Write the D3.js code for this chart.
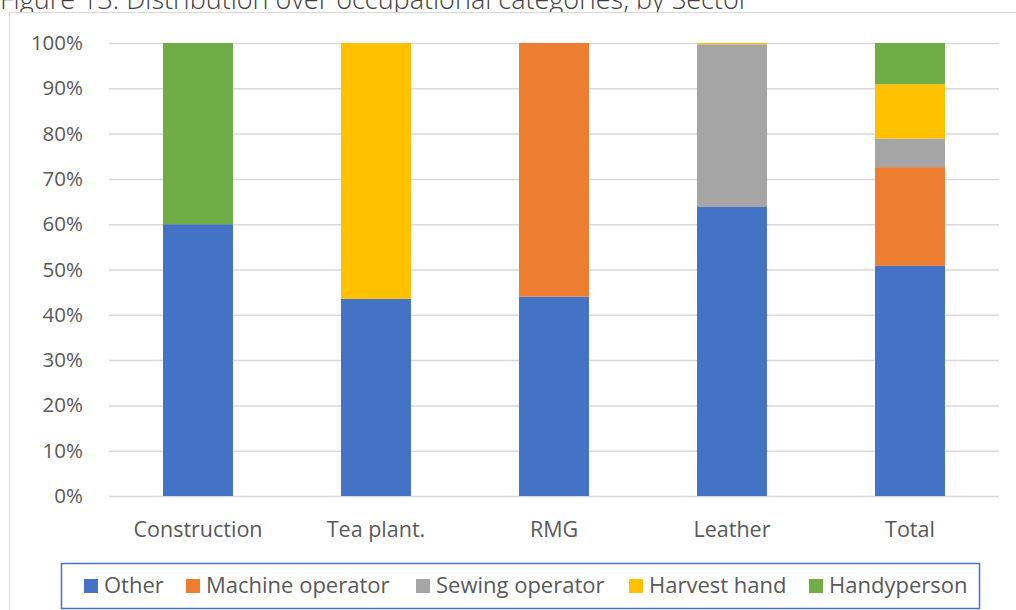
<!DOCTYPE html>
<html>
<head>
<meta charset="utf-8">
<script src="https://cdn.jsdelivr.net/npm/d3@7"></script>
<style>
  html, body { margin: 0; padding: 0; background: #fff; }
  svg { display: block; font-family: "Open Sans", "Noto Sans", sans-serif; }
</style>
</head>
<body>
<svg id="chart" width="1016" height="610"></svg>
<script>
// Sectors along the x axis
const sectors = ["Construction", "Tea plant.", "RMG", "Leather", "Total"];
// Occupational categories, stacked bottom to top
const categories = ["Other", "Machine operator", "Sewing operator", "Harvest hand", "Handyperson"];
const colors = ["#4472C4", "#ED7D31", "#A5A5A5", "#FFC000", "#70AD47"];
// Share of each category per sector (fractions)
const other           = [0.600, 0.435, 0.440, 0.638, 0.508];
const machineOperator = [0.000, 0.000, 0.560, 0.000, 0.218];
const sewingOperator  = [0.000, 0.000, 0.000, 0.359, 0.063];
const harvestHand     = [0.000, 0.565, 0.000, 0.003, 0.120];
const handyperson     = [0.400, 0.000, 0.000, 0.000, 0.091];
const yTicks = [0, 0.1, 0.2, 0.3, 0.4, 0.5, 0.6, 0.7, 0.8, 0.9, 1.0];

const FONT = '"Open Sans", "Noto Sans", sans-serif';
const seriesValues = [other, machineOperator, sewingOperator, harvestHand, handyperson];
const rows = sectors.map((s, i) => {
  const r = { sector: s };
  categories.forEach((c, k) => { r[c] = seriesValues[k][i]; });
  return r;
});

const svg = d3.select("#chart");
const plot = { left: 109, right: 999, top: 43, bottom: 496 };

// Title (partly above the top edge)
svg.append("text")
  .attr("x", 0).attr("y", 9)
  .attr("font-family", FONT)
  .attr("font-size", 27).attr("font-weight", 300)
  .attr("fill", "#404040")
  .text("Figure 13: Distribution over occupational categories, by Sector");

// Chart area frame
svg.append("rect")
  .attr("x", 9.5).attr("y", 12.5)
  .attr("width", 1040).attr("height", 640)
  .attr("fill", "#fff").attr("stroke", "#D9D9D9").attr("stroke-width", 1);

const x = d3.scaleBand().domain(sectors)
  .range([plot.left, plot.right])
  .paddingInner(0.607).paddingOuter(0.3035);
const y = d3.scaleLinear().domain([0, 1]).range([plot.bottom, plot.top]);

// Gridlines and percentage labels
const yAxis = d3.axisLeft(y).tickValues(yTicks)
  .tickFormat(d3.format(".0%"))
  .tickSize(-(plot.right - plot.left)).tickPadding(26);
const gy = svg.append("g").attr("transform", `translate(${plot.left},0)`).call(yAxis);
gy.select(".domain").remove();
gy.selectAll(".tick line").attr("stroke", "#D9D9D9").attr("stroke-width", 1.5);
gy.selectAll(".tick text").attr("font-family", FONT).attr("font-size", 20.5).attr("fill", "#595959");

// Stacked bars
const stack = d3.stack().keys(categories);
const layers = stack(rows);
svg.append("g").selectAll("g")
  .data(layers).join("g")
  .attr("fill", (d, i) => colors[i])
  .selectAll("rect")
  .data(d => d).join("rect")
  .attr("x", d => x(d.data.sector))
  .attr("width", x.bandwidth())
  .attr("y", d => y(d[1]))
  .attr("height", d => y(d[0]) - y(d[1]));

// Category axis
const xAxis = d3.axisBottom(x).tickSize(0).tickPadding(26);
const gx = svg.append("g").attr("transform", `translate(0,${plot.bottom})`).call(xAxis);
gx.select(".domain").remove();
gx.selectAll(".tick text").attr("font-family", FONT).attr("font-size", 21.5).attr("fill", "#595959");

// Legend
const legend = svg.append("g");
legend.append("rect")
  .attr("x", 61.5).attr("y", 563.5).attr("width", 918).attr("height", 45)
  .attr("fill", "#fff").attr("stroke", "#4472C4").attr("stroke-width", 1.5);
const legendX = [84, 186, 416, 629, 809];
categories.forEach((c, i) => {
  const g = legend.append("g").attr("transform", `translate(${legendX[i]},0)`);
  g.append("rect").attr("x", 0).attr("y", 579).attr("width", 14).attr("height", 14)
    .attr("fill", colors[i]);
  g.append("text").attr("x", 20).attr("y", 593)
    .attr("font-family", FONT)
    .attr("font-size", 22).attr("fill", "#595959").text(c);
});
</script>
</body>
</html>
